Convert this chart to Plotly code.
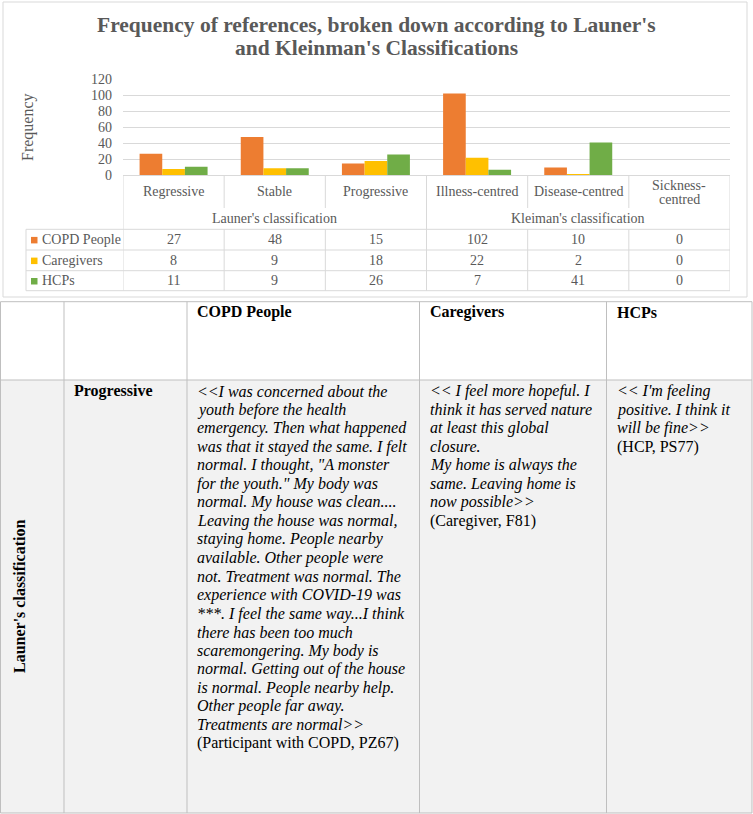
import plotly.graph_objects as go

W, H = 753, 814

# ---------------- data ----------------
categories = ["Regressive", "Stable", "Progressive", "Illness-centred", "Disease-centred", "Sickness-centred"]
category_labels = ["Regressive", "Stable", "Progressive", "Illness-centred", "Disease-centred", "Sickness-\ncentred"]
group_labels = ["Launer's classification", "Kleiman's classification"]
group_members = [[0, 1, 2], [3, 4, 5]]

series_names = ["COPD People", "Caregivers", "HCPs"]
copd_people = [27, 48, 15, 102, 10, 0]
caregivers = [8, 9, 18, 22, 2, 0]
hcps = [11, 9, 26, 7, 41, 0]
series_values = [copd_people, caregivers, hcps]
series_colors = ["#ED7D31", "#FFC000", "#70AD47"]

y_tick_values = [0, 20, 40, 60, 80, 100, 120]
title_lines = ["Frequency of references, broken down according to Launer's",
               "and Kleinman's Classifications"]
y_title = "Frequency"

table_headers = ["COPD People", "Caregivers", "HCPs"]
row_group_label = "Launer's classification"
row_label = "Progressive"
quote_copd = [
    "<<I was concerned about the",
    "youth before the health",
    "emergency. Then what happened",
    "was that it stayed the same. I felt",
    "normal. I thought, \"A monster",
    "for the youth.\" My body was",
    "normal. My house was clean....",
    "Leaving the house was normal,",
    "staying home. People nearby",
    "available. Other people were",
    "not. Treatment was normal. The",
    "experience with COVID-19 was",
    "***. I feel the same way...I think",
    "there has been too much",
    "scaremongering. My body is",
    "normal. Getting out of the house",
    "is normal. People nearby help.",
    "Other people far away.",
    "Treatments are normal>>",
]
source_copd = "(Participant with COPD, PZ67)"
quote_caregivers = [
    "<< I feel more hopeful. I",
    "think it has served nature",
    "at least this global",
    "closure.",
    "My home is always the",
    "same. Leaving home is",
    "now possible>>",
]
source_caregivers = "(Caregiver, F81)"
quote_hcps = [
    "<< I'm feeling",
    "positive. I think it",
    "will be fine>>",
]
source_hcps = "(HCP, PS77)"
quotes = [quote_copd, quote_caregivers, quote_hcps]
sources = [source_copd, source_caregivers, source_hcps]

# ---------------- helpers ----------------
SERIF = "Liberation Serif, Times New Roman, serif"
GREY_TXT = "#595959"
GRID = "#D9D9D9"
TBL = "#BFBFBF"


def X(px):
    return px / W


def Y(py):
    return 1 - py / H


def esc(s):
    return s.replace("&", "&amp;").replace("<", "&lt;").replace(">", "&gt;")


shapes = []
annotations = []


def hline(x0, x1, y, color, xref="paper"):
    shapes.append(dict(type="line", xref=xref, yref="paper", x0=x0, x1=x1, y0=Y(y), y1=Y(y),
                       line=dict(color=color, width=1)))


def vline(x, y0, y1, color, xref="paper"):
    shapes.append(dict(type="line", xref=xref, yref="paper", x0=x, x1=x, y0=Y(y0), y1=Y(y1),
                       line=dict(color=color, width=1)))


def text(x, y, s, size, color=GREY_TXT, xanchor="center", bold=False, italic=False,
         xref="paper", angle=0):
    annotations.append(dict(
        x=x, y=Y(y), xref=xref, yref="paper", text=esc(s), showarrow=False,
        xanchor=xanchor, yanchor="middle", textangle=angle, borderpad=0,
        font=dict(family=SERIF, size=size, color=color,
                  weight="bold" if bold else "normal",
                  style="italic" if italic else "normal")))


# ---------------- chart geometry ----------------
PLOT_L, PLOT_R = 123, 730
Y0_PX, Y120_PX = 175.5, 79
n = len(categories)

fig = go.Figure()
for name, vals, col in zip(series_names, series_values, series_colors):
    fig.add_trace(go.Bar(x=categories, y=vals, name=name, marker=dict(color=col, line=dict(width=0)),
                         showlegend=False))

# chart frame
shapes.append(dict(type="rect", xref="paper", yref="paper", x0=X(3), x1=X(747), y0=Y(2), y1=Y(297),
                   line=dict(color=GRID, width=1), fillcolor="rgba(0,0,0,0)"))

# title
text(X(376), 25, title_lines[0], 21.5, bold=True)
text(X(376), 48, title_lines[1], 21.5, bold=True)
# y title
text(X(28), 127, y_title, 16, angle=-90)

# data table lines
ROW_TOP = 229.3
ROW_Y = [250, 270.7, 290.7]
hline(X(PLOT_L), X(PLOT_R), Y0_PX, GRID)
hline(X(26), X(PLOT_R), ROW_TOP, GRID)
for yy in ROW_Y:
    hline(X(26), X(PLOT_R), yy, GRID)
vline(X(26), ROW_TOP, ROW_Y[-1], GRID)
# category boundaries (in axis units)
group_edges = [g[0] - 0.5 for g in group_members] + [group_members[-1][-1] + 0.5]
for k in range(n + 1):
    xb = k - 0.5
    if xb in group_edges:
        vline(xb, Y0_PX, ROW_Y[-1], GRID, xref="x")
    else:
        vline(xb, Y0_PX, 208, GRID, xref="x")
        vline(xb, ROW_TOP, ROW_Y[-1], GRID, xref="x")

# category labels
for i, lab in enumerate(category_labels):
    lines = lab.split("\n")
    if len(lines) == 1:
        text(i, 192, lines[0], 14, xref="x")
    else:
        for j, ln in enumerate(lines):
            text(i, 185 + 14 * j, ln, 14, xref="x")
# group labels
for g, members in zip(group_labels, group_members):
    text(sum(members) / len(members), 219, g, 14, xref="x")

# rows: legend key + name + values
row_centers = [239.6, 260.3, 280.7]
for name, vals, col, yc in zip(series_names, series_values, series_colors, row_centers):
    shapes.append(dict(type="rect", xref="paper", yref="paper", x0=X(31), x1=X(37.5),
                       y0=Y(yc + 3.8), y1=Y(yc - 2.7), line=dict(width=0), fillcolor=col))
    text(X(41), yc, name, 14, xanchor="left")
    for i, v in enumerate(vals):
        text(i, yc, str(v), 14, xref="x")

# ---------------- lower table ----------------
T_TOP, T_HEAD, T_BOT = 301.7, 380, 813
COLS = [0.5, 64, 187, 419.5, 606.5, 752]
shapes.append(dict(type="rect", xref="paper", yref="paper", x0=X(COLS[0]), x1=X(COLS[-1]),
                   y0=Y(T_HEAD), y1=Y(T_BOT), line=dict(width=0), fillcolor="#F2F2F2", layer="below"))
hline(X(COLS[0]), X(COLS[-1]), T_TOP, TBL)
hline(X(COLS[0]), X(COLS[-1]), T_HEAD, TBL)
hline(X(COLS[0]), X(COLS[-1]), T_BOT, TBL)
for cx in COLS:
    vline(X(cx), T_TOP, T_BOT, TBL)

BLACK = "#000000"
for hdr, cx in zip(table_headers, COLS[2:5]):
    text(X(cx + 9), 312, hdr, 16, color=BLACK, xanchor="left", bold=True)
text(X(73), 391, row_label, 16, color=BLACK, xanchor="left", bold=True)
text(X(19), 597, row_group_label, 16, color=BLACK, bold=True, angle=-90)

LINE_H = 18.55
for q, src, cx in zip(quotes, sources, COLS[2:5]):
    for j, ln in enumerate(q):
        text(X(cx + 9), 391 + LINE_H * j, ln, 16, color=BLACK, xanchor="left", italic=True)
    text(X(cx + 9), 391 + LINE_H * len(q), src, 16, color=BLACK, xanchor="left")

fig.update_layout(
    width=W, height=H,
    margin=dict(l=0, r=0, t=0, b=0, autoexpand=False),
    paper_bgcolor="white", plot_bgcolor="rgba(0,0,0,0)",
    barmode="group", bargap=0.328, bargroupgap=0,
    shapes=shapes, annotations=annotations,
    xaxis=dict(domain=[X(PLOT_L), X(PLOT_R)], type="category", range=[-0.5, n - 0.5], automargin=False,
               showticklabels=False, showgrid=False, zeroline=False, showline=False, fixedrange=True),
    yaxis=dict(domain=[Y(Y0_PX), Y(Y120_PX)], range=[0, 120], tickvals=y_tick_values, automargin=False,
               showgrid=True, gridcolor=GRID, gridwidth=1, zeroline=False, showline=False,
               ticks="", ticklabelstandoff=10,
               tickfont=dict(family=SERIF, size=14, color=GREY_TXT), fixedrange=True),
    font=dict(family=SERIF),
)

page_css = ("document.documentElement.style.margin='0';document.documentElement.style.padding='0';"
            "document.body.style.margin='0px';document.body.style.padding='0';"
            "document.documentElement.style.overflow='hidden';document.body.style.overflow='hidden';")
fig.write_html("out.html", config={"displayModeBar": False}, post_script=page_css)
